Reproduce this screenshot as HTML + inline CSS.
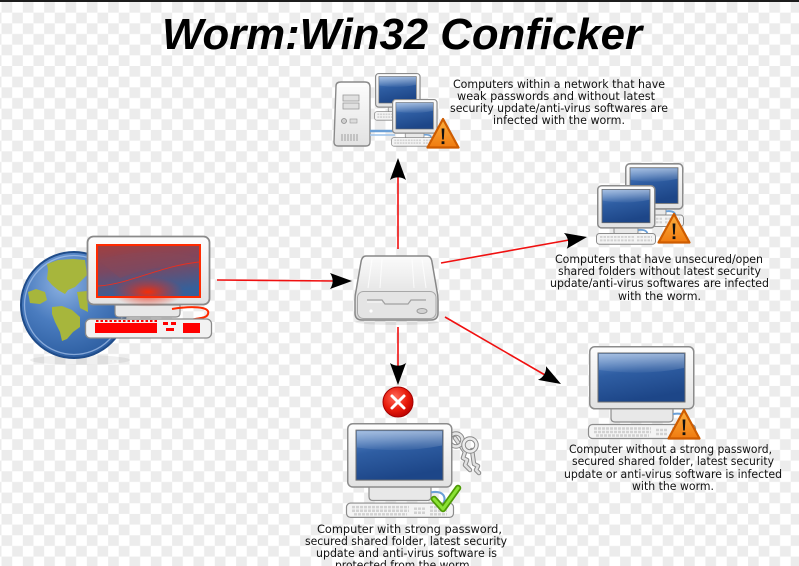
<!DOCTYPE html>
<html><head><meta charset="utf-8">
<style>
html,body{margin:0;padding:0;background:#fff;}
svg{display:block;}
.t{font-family:"DejaVu Sans","Liberation Sans",sans-serif;font-size:11.5px;fill:#111;}
</style></head>
<body>
<svg width="799" height="566" viewBox="0 0 799 566" xmlns="http://www.w3.org/2000/svg">
<defs>
  <pattern id="chk" width="21.33" height="21.33" patternUnits="userSpaceOnUse" x="1.5" y="2">
    <rect width="21.33" height="21.33" fill="#ffffff"/>
    <rect width="10.67" height="10.67" fill="#ececec"/>
    <rect x="10.67" y="10.67" width="10.67" height="10.67" fill="#ececec"/>
  </pattern>
  <linearGradient id="frameG" x1="0" y1="0" x2="0" y2="1">
    <stop offset="0" stop-color="#fdfdfd"/><stop offset="1" stop-color="#e2e2e2"/>
  </linearGradient>
  <linearGradient id="scrB" x1="0" y1="0" x2="0.3" y2="1">
    <stop offset="0" stop-color="#5d8ccc"/><stop offset="0.45" stop-color="#2f5ea3"/><stop offset="1" stop-color="#1d4688"/>
  </linearGradient>
  <linearGradient id="gloss" x1="0" y1="0" x2="0" y2="1">
    <stop offset="0" stop-color="#ffffff" stop-opacity="0.45"/><stop offset="1" stop-color="#ffffff" stop-opacity="0.05"/>
  </linearGradient>
  <linearGradient id="warnG" x1="0" y1="0" x2="0" y2="1">
    <stop offset="0" stop-color="#fcaf3e"/><stop offset="1" stop-color="#f07b10"/>
  </linearGradient>
  <radialGradient id="globeG" cx="0.4" cy="0.3" r="0.75">
    <stop offset="0" stop-color="#8fb3e2"/><stop offset="0.5" stop-color="#4a7cbf"/><stop offset="1" stop-color="#2a5b9e"/>
  </radialGradient>
  <linearGradient id="redScr" x1="0" y1="0" x2="0.25" y2="1">
    <stop offset="0" stop-color="#a23f3e"/><stop offset="0.5" stop-color="#7a4862"/><stop offset="1" stop-color="#36609a"/>
  </linearGradient>
  <radialGradient id="redGlow" cx="0.5" cy="0.5" r="0.5">
    <stop offset="0" stop-color="#ff2a00" stop-opacity="0.95"/><stop offset="0.5" stop-color="#f02a10" stop-opacity="0.45"/><stop offset="1" stop-color="#f02a10" stop-opacity="0"/>
  </radialGradient>
  <radialGradient id="redX" cx="0.4" cy="0.35" r="0.7">
    <stop offset="0" stop-color="#ff6a5a"/><stop offset="0.6" stop-color="#e81a0a"/><stop offset="1" stop-color="#b80000"/>
  </radialGradient>
  <linearGradient id="driveG" x1="0" y1="0" x2="0" y2="1">
    <stop offset="0" stop-color="#fbfbfb"/><stop offset="1" stop-color="#d6d6d6"/>
  </linearGradient>

  <g id="monW">
    <path d="M22,62 L84,62 L84,72 Q84,76 80,76 L26,76 Q22,76 22,72 Z" fill="#e8e8e8" stroke="#8c8c8c" stroke-width="1.2"/>
    <path d="M84,68 C96,66 100,72 96,80" fill="none" stroke="#6a9fd6" stroke-width="2"/>
    <rect x="0.75" y="0.75" width="104" height="62" rx="5" fill="url(#frameG)" stroke="#8c8c8c" stroke-width="1.5"/>
    <rect x="9" y="7" width="87" height="49" fill="url(#scrB)" stroke="#6f6f6f" stroke-width="1"/>
    <path d="M10,8 L95,8 L95,22 Q55,30 10,24 Z" fill="url(#gloss)"/>
    <rect x="-0.5" y="78.5" width="107" height="14" rx="4" fill="#f4f4f4" stroke="#8c8c8c" stroke-width="1.2"/>
    <g stroke="#d2d2d2" stroke-width="2.4" stroke-dasharray="3 1">
      <line x1="5" y1="82.5" x2="62" y2="82.5"/><line x1="5" y1="86" x2="62" y2="86"/><line x1="7" y1="89.5" x2="60" y2="89.5"/>
      <line x1="67" y1="84" x2="79" y2="84"/><line x1="67" y1="88" x2="79" y2="88"/>
      <line x1="83" y1="82.5" x2="100" y2="82.5"/><line x1="83" y1="86" x2="100" y2="86"/><line x1="83" y1="89.5" x2="100" y2="89.5"/>
    </g>
  </g>

  <g id="monS">
    <path d="M17,43 L41,43 L41,48 Q41,50 39,50 L19,50 Q17,50 17,48 Z" fill="#e8e8e8" stroke="#8c8c8c" stroke-width="1"/>
    <path d="M41,46 C50,45 52,49 49,53" fill="none" stroke="#6a9fd6" stroke-width="1.8"/>
    <rect x="0.75" y="0.75" width="57" height="43" rx="4" fill="url(#frameG)" stroke="#8c8c8c" stroke-width="1.5"/>
    <rect x="5" y="4.5" width="48" height="34" fill="url(#scrB)" stroke="#6f6f6f" stroke-width="0.8"/>
    <path d="M5.5,5 L52.5,5 L52.5,15 Q30,20 5.5,16 Z" fill="url(#gloss)"/>
    <rect x="-0.5" y="49.5" width="59" height="11" rx="3" fill="#f4f4f4" stroke="#8c8c8c" stroke-width="1"/>
    <g stroke="#d2d2d2" stroke-width="2" stroke-dasharray="2.5 1">
      <line x1="3" y1="53" x2="37" y2="53"/><line x1="3" y1="56.5" x2="37" y2="56.5"/>
      <line x1="40" y1="53" x2="55" y2="53"/><line x1="40" y1="56.5" x2="55" y2="56.5"/>
    </g>
  </g>

  <g id="warn">
    <path d="M17,2 L32.5,30.5 L1.5,30.5 Z" fill="url(#warnG)" stroke="#ce5c00" stroke-width="2.2" stroke-linejoin="round"/>
    <path d="M15.6,11.5 L18.4,11.5 L17.8,22.5 L16.2,22.5 Z" fill="#111"/>
    <rect x="15.6" y="24.3" width="2.8" height="2.8" fill="#111"/>
  </g>

  <path id="ah" d="M0,0 L-22,-8 C-18.5,-3.3 -18.5,3.3 -22,8 Z" fill="#000"/>
</defs>

<!-- background -->
<rect width="799" height="566" fill="url(#chk)"/>
<rect width="799" height="2" fill="#1c1c1c"/>

<!-- title -->
<text x="162" y="49" font-family="'Liberation Sans',Arial,sans-serif" font-weight="bold" font-style="italic" font-size="44" textLength="480" lengthAdjust="spacingAndGlyphs" fill="#000">Worm:Win32 Conficker</text>

<!-- ===== connectors ===== -->
<g stroke="#f01010" stroke-width="1.6" fill="none">
  <line x1="217" y1="280" x2="335" y2="281"/>
  <line x1="398" y1="249" x2="398" y2="176"/>
  <line x1="441" y1="263" x2="569" y2="240"/>
  <line x1="445" y1="317" x2="545" y2="375"/>
  <line x1="398" y1="327" x2="398" y2="367"/>
</g>
<use href="#ah" transform="translate(352,281)"/>
<use href="#ah" transform="translate(398,158) rotate(-90)"/>
<use href="#ah" transform="translate(587,237) rotate(-10.1)"/>
<use href="#ah" transform="translate(561,384) rotate(30)"/>
<use href="#ah" transform="translate(398,385) rotate(90)"/>

<!-- ===== globe + red computer ===== -->
<ellipse cx="80" cy="360" rx="50" ry="5" fill="#000" opacity="0.06"/>
<circle cx="74" cy="305" r="53" fill="url(#globeG)" stroke="#1f4c8a" stroke-width="2"/>
<circle cx="74" cy="305" r="49.5" fill="none" stroke="#a9c5ec" stroke-width="1.3" opacity="0.7"/>
<g fill="#a7b63c">
  <path d="M47,264 L58,260 L73,259 L85,260 L87,275 L80,282 L75,287 L68,290 L65,294 L58,290 L52,285 L47,279 L48,270 Z"/>
  <path d="M28,292 L36,289 L45,292 L47,300 L40,304 L30,303 Z"/>
  <path d="M52,307 L62,306 L72,310 L80,317 L80,327 L73,332 L67,339 L62,341 L60,332 L55,322 L52,314 Z"/>
  <path d="M77,292 L87,291 L88,312 L80,308 Z"/>
</g>

<!-- red monitor -->
<path d="M115,305 L180,305 L180,313 Q180,317 176,317 L119,317 Q115,317 115,313 Z" fill="#e8e8e8" stroke="#8a8a8a" stroke-width="1.2"/>
<path d="M172,309 C190,306 211,306 208,314 C206,320 193,317 188,322" fill="none" stroke="#ff2a00" stroke-width="2"/>
<rect x="87.5" y="236.5" width="122" height="68" rx="6" fill="url(#frameG)" stroke="#8a8a8a" stroke-width="1.8"/>
<rect x="97" y="245" width="103" height="52" fill="url(#redScr)" stroke="#ff2a00" stroke-width="2"/>
<path d="M98,260 Q150,245 199,258 L199,268 Q160,262 120,278 Z" fill="#8a4858" opacity="0.4"/>
<ellipse cx="148" cy="292" rx="36" ry="15" fill="url(#redGlow)"/>
<path d="M98,286 C130,284 160,266 199,262" fill="none" stroke="#e83020" stroke-width="0.9"/>
<rect x="85.5" y="319" width="126" height="19" rx="5" fill="#f2f2f2" stroke="#8a8a8a" stroke-width="1.3"/>
<g fill="#ff0000">
  <rect x="95" y="323" width="62" height="10"/>
  <rect x="183" y="323" width="17" height="10"/>
  <rect x="163" y="322" width="5" height="3"/><rect x="171" y="322" width="5" height="3"/>
  <rect x="166" y="328" width="8" height="3"/>
</g>
<g stroke="#ff0000" stroke-width="2" stroke-dasharray="2.5 2">
  <line x1="96" y1="321" x2="157" y2="321"/>
</g>

<!-- ===== central drive ===== -->
<ellipse cx="397" cy="322" rx="42" ry="3" fill="#000" opacity="0.08"/>
<path d="M366,256 Q362,256 361,262 L356,291 Q355,295 355,300 L355,313 Q355,320 362,320 L431,320 Q438,320 438,313 L438,300 Q438,295 437,291 L432,262 Q431,256 427,256 Z" fill="url(#driveG)" stroke="#888" stroke-width="1.5"/>
<g stroke="#ffffff" stroke-width="1" opacity="0.8">
  <line x1="372" y1="259" x2="368" y2="288"/><line x1="382" y1="259" x2="380" y2="288"/>
  <line x1="412" y1="259" x2="414" y2="288"/><line x1="422" y1="259" x2="426" y2="288"/>
</g>
<rect x="357.5" y="291.5" width="78.5" height="27" rx="6" fill="#e4e4e4" stroke="#a8a8a8" stroke-width="1"/>
<path d="M367,300 L382,300 L385,304 L408,304 L411,300 L426,300" fill="none" stroke="#a0a0a0" stroke-width="1.2"/>
<path d="M367,302 L382,302" fill="none" stroke="#fff" stroke-width="0.8"/>
<ellipse cx="422" cy="311" rx="5" ry="2.5" fill="#d2d2d2" stroke="#9c9c9c" stroke-width="1"/>
<circle cx="371" cy="311" r="1.6" fill="#fff"/>

<!-- ===== top group ===== -->
<g>
  <path d="M336,86 Q336,82 341,82 L365,82 Q370,82 370,87 L370,142 Q370,146 366,146 L338,146 Q334,146 334,142 Z" fill="url(#frameG)" stroke="#8a8a8a" stroke-width="1.4"/>
  <path d="M338,86 L366,86" stroke="#fff" stroke-width="1"/>
  <rect x="343" y="95" width="16" height="6" fill="#e0e0e0" stroke="#9a9a9a" stroke-width="0.8"/>
  <rect x="343" y="103" width="16" height="6" fill="#e0e0e0" stroke="#9a9a9a" stroke-width="0.8"/>
  <circle cx="344" cy="121" r="2.5" fill="#cfcfcf" stroke="#8a8a8a" stroke-width="0.8"/>
  <rect x="350" y="119" width="7" height="4" fill="#dcdcdc" stroke="#9a9a9a" stroke-width="0.6"/>
  <g stroke="#a0a0a0" stroke-width="1"><line x1="342" y1="134" x2="342" y2="141"/><line x1="345" y1="134" x2="345" y2="141"/><line x1="348" y1="134" x2="348" y2="141"/><line x1="351" y1="134" x2="351" y2="141"/><line x1="354" y1="134" x2="354" y2="141"/><line x1="357" y1="134" x2="357" y2="141"/></g>
  <path d="M370,131 L395,131" stroke="#6a9fd6" stroke-width="2.5"/>
  <path d="M370,135 L395,135" stroke="#9cc2ea" stroke-width="1.5"/>
  <use href="#monS" transform="translate(375,73) scale(0.78)"/>
  <use href="#monS" transform="translate(392,99) scale(0.78)"/>
  <use href="#warn" transform="translate(426,117)"/>
</g>
<text class="t" x="453" y="88" textLength="212" lengthAdjust="spacingAndGlyphs">Computers within a network that have</text>
<text class="t" x="457" y="100" textLength="198" lengthAdjust="spacingAndGlyphs">weak passwords and without latest</text>
<text class="t" x="450" y="112" textLength="218" lengthAdjust="spacingAndGlyphs">security update/anti-virus softwares are</text>
<text class="t" x="493" y="124" textLength="132" lengthAdjust="spacingAndGlyphs">infected with the worm.</text>

<!-- ===== right-middle group ===== -->
<use href="#monS" transform="translate(625,163) scale(1,1.05)"/>
<use href="#monS" transform="translate(597,185) scale(1,0.98)"/>
<use href="#warn" transform="translate(657,212)"/>
<text class="t" x="555" y="263" textLength="208" lengthAdjust="spacingAndGlyphs">Computers that have unsecured/open</text>
<text class="t" x="558" y="275" textLength="203" lengthAdjust="spacingAndGlyphs">shared folders without latest security</text>
<text class="t" x="550" y="287" textLength="219" lengthAdjust="spacingAndGlyphs">update/anti-virus softwares are infected</text>
<text class="t" x="618" y="300" textLength="83" lengthAdjust="spacingAndGlyphs">with the worm.</text>

<!-- ===== bottom-right group ===== -->
<use href="#monW" transform="translate(589,346)"/>
<use href="#warn" transform="translate(667,408)"/>
<text class="t" x="569" y="453" textLength="203" lengthAdjust="spacingAndGlyphs">Computer without a strong password,</text>
<text class="t" x="572" y="465" textLength="202" lengthAdjust="spacingAndGlyphs">secured shared folder, latest security</text>
<text class="t" x="564" y="478" textLength="218" lengthAdjust="spacingAndGlyphs">update or anti-virus software is infected</text>
<text class="t" x="632" y="490" textLength="82" lengthAdjust="spacingAndGlyphs">with the worm.</text>

<!-- ===== bottom-center group ===== -->
<circle cx="398" cy="402" r="15" fill="url(#redX)" stroke="#a40000" stroke-width="1"/>
<g stroke="#fff" stroke-width="3" stroke-linecap="round">
  <line x1="392" y1="396" x2="404" y2="408"/><line x1="404" y1="396" x2="392" y2="408"/>
</g>
<!-- keys -->
<g fill="none" stroke-linecap="round" stroke-linejoin="round">
  <path d="M455,438 L465,452 L463,458 L467,460 L465,465 L470,470" stroke="#8a8a8a" stroke-width="4.5"/>
  <path d="M455,438 L465,452 L463,458 L467,460 L465,465 L470,470" stroke="#e0e0e0" stroke-width="2.5"/>
  <circle cx="456" cy="440" r="6.5" stroke="#8a8a8a" stroke-width="4.5"/>
  <circle cx="456" cy="440" r="6.5" stroke="#e6e6e6" stroke-width="2.5"/>
  <path d="M472,450 L474,464 L478,466 L476,470 L479,473" stroke="#8a8a8a" stroke-width="4.5"/>
  <path d="M472,450 L474,464 L478,466 L476,470 L479,473" stroke="#e0e0e0" stroke-width="2.5"/>
  <circle cx="470" cy="445" r="6.5" stroke="#8a8a8a" stroke-width="4.5"/>
  <circle cx="470" cy="445" r="6.5" stroke="#ececec" stroke-width="2.5"/>
</g>
<use href="#monW" transform="translate(347,423) scale(1,1.02)"/>
<g fill="none" stroke-linecap="round" stroke-linejoin="round">
  <path d="M434,499 L443,509 L458,488" stroke="#4e9a06" stroke-width="6.5"/>
  <path d="M434,499 L443,509 L458,488" stroke="#8ae234" stroke-width="3"/>
</g>
<text class="t" x="317" y="533" textLength="185" lengthAdjust="spacingAndGlyphs">Computer with strong password,</text>
<text class="t" x="305" y="545" textLength="202" lengthAdjust="spacingAndGlyphs">secured shared folder, latest security</text>
<text class="t" x="316" y="557" textLength="181" lengthAdjust="spacingAndGlyphs">update and anti-virus software is</text>
<text class="t" x="335" y="569" textLength="138" lengthAdjust="spacingAndGlyphs">protected from the worm.</text>
</svg>
</body></html>
